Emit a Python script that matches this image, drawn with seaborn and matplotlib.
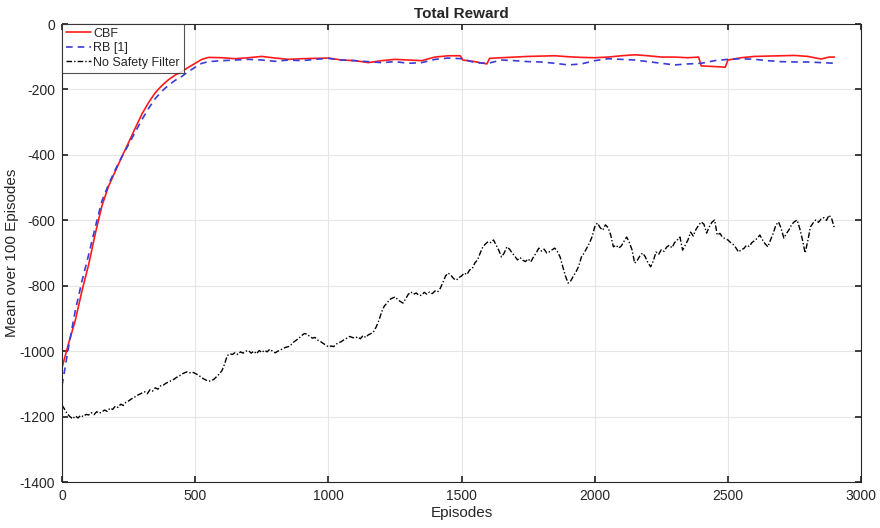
import numpy as np
import pandas as pd
import matplotlib
matplotlib.use("Agg")
import matplotlib.pyplot as plt
import seaborn as sns

# ---------------- data ----------------
cbf_ep = [0, 25, 50, 75, 100, 125, 150, 175, 200, 225, 250, 275, 300, 325, 350,
          375, 400, 425, 450, 475, 500, 525, 550, 600, 650, 700, 750, 800, 850,
          900, 950, 1000, 1050, 1100, 1150, 1200, 1250, 1300, 1350, 1400, 1450,
          1495, 1505, 1550, 1595, 1605, 1650, 1700, 1750, 1800, 1850, 1900, 1950,
          2000, 2050, 2100, 2150, 2200, 2250, 2300, 2350, 2390, 2400, 2450, 2490,
          2500, 2550, 2600, 2650, 2700, 2750, 2800, 2850, 2880, 2900]
cbf_val = [-1050, -975, -905, -815, -735, -640, -555, -495, -450, -405, -362, -318,
           -275, -240, -210, -188, -170, -156, -145, -132, -120, -108, -102, -103,
           -106, -103, -99, -104, -108, -106, -105, -104, -110, -112, -118, -112,
           -108, -110, -112, -101, -97, -97, -110, -115, -122, -105, -103, -101,
           -99, -98, -97, -100, -102, -103, -101, -97, -94, -97, -101, -101, -103,
           -101, -128, -130, -132, -110, -103, -99, -98, -97, -96, -99, -107, -101,
           -101]

rb_ep = [0, 25, 50, 75, 100, 125, 150, 175, 200, 225, 250, 275, 300, 325, 350,
         375, 400, 425, 450, 475, 500, 525, 550, 600, 650, 700, 750, 800, 850, 900,
         950, 1000, 1050, 1100, 1150, 1200, 1250, 1300, 1350, 1400, 1450, 1500,
         1550, 1600, 1650, 1700, 1750, 1800, 1850, 1900, 1950, 2000, 2050, 2100,
         2150, 2200, 2250, 2300, 2350, 2400, 2450, 2500, 2550, 2600, 2650, 2700,
         2750, 2800, 2850, 2900]
rb_val = [-1105, -985, -875, -785, -705, -620, -540, -490, -445, -405, -368, -330,
          -292, -258, -228, -205, -187, -172, -160, -145, -132, -120, -115, -112,
          -110, -108, -110, -114, -110, -112, -108, -105, -110, -112, -115, -118,
          -115, -120, -118, -108, -104, -106, -118, -120, -110, -112, -115, -116,
          -120, -125, -122, -112, -106, -108, -110, -115, -120, -125, -122, -120,
          -112, -108, -106, -108, -112, -115, -116, -116, -118, -120]

nsf_ep = list(range(0, 2901, 10))
nsf_val = [
    -1165, -1178, -1192, -1200, -1207, -1198, -1204, -1196, -1200, -1193,  # 0
    -1195, -1188, -1194, -1185, -1190, -1185, -1180, -1184, -1174, -1178,  # 100
    -1168, -1172, -1162, -1166, -1156, -1152, -1146, -1142, -1136, -1132,  # 200
    -1128, -1124, -1130, -1118, -1122, -1112, -1116, -1106, -1104, -1098,  # 300
    -1094, -1090, -1086, -1080, -1076, -1070, -1066, -1063, -1066, -1064,  # 400
    -1068, -1072, -1078, -1084, -1088, -1092, -1090, -1086, -1078, -1070,  # 500
    -1060, -1040, -1014, -1008, -1010, -1004, -1010, -1002, -1006, -1000,  # 600
    -998, -1006, -1000, -1008, -998, -1004, -997, -1002, -994, -1000,      # 700
    -1005, -1000, -996, -992, -988, -986, -980, -972, -966, -960,          # 800
    -952, -946, -948, -955, -960, -958, -966, -970, -976, -981,            # 900
    -987, -984, -986, -978, -974, -970, -964, -960, -955, -958,            # 1000
    -960, -956, -962, -952, -958, -950, -946, -940, -925, -905,            # 1100
    -880, -862, -853, -842, -838, -834, -842, -848, -853, -840,            # 1200
    -826, -819, -826, -822, -830, -829, -820, -826, -819, -824,            # 1300
    -816, -819, -808, -790, -770, -761, -768, -778, -783, -775,            # 1400
    -770, -761, -766, -752, -748, -730, -721, -700, -681, -672,            # 1500
    -665, -668, -660, -676, -692, -712, -700, -681, -688, -700,            # 1600
    -710, -721, -714, -722, -726, -718, -727, -712, -700, -685,            # 1700
    -694, -688, -700, -696, -690, -685, -696, -712, -742, -770,            # 1800
    -792, -785, -770, -757, -740, -712, -700, -685, -670, -650,            # 1900
    -620, -608, -622, -630, -614, -622, -645, -681, -676, -685,            # 2000
    -678, -664, -651, -668, -690, -731, -722, -708, -700, -712,            # 2100
    -730, -742, -724, -697, -704, -690, -695, -682, -676, -684,            # 2200
    -668, -660, -651, -691, -676, -660, -636, -648, -628, -615,            # 2300
    -605, -612, -639, -620, -606, -599, -645, -640, -652, -656,            # 2400
    -660, -668, -674, -684, -697, -690, -686, -676, -680, -668,            # 2500
    -662, -655, -645, -660, -672, -681, -660, -640, -615, -605,            # 2600
    -625, -654, -640, -628, -612, -604, -599, -626, -660, -700,            # 2700
    -662, -620, -608, -599, -606, -596, -592, -600, -584, -596,            # 2800
    -624,                                                                  # 2900
]

x_ticks = [0, 500, 1000, 1500, 2000, 2500, 3000]
y_ticks = [0, -200, -400, -600, -800, -1000, -1200, -1400]

# ---------------- plot ----------------
sns.set_theme(style="white")
plt.rcParams['font.family'] = ['Liberation Sans', 'DejaVu Sans']
plt.rcParams['axes.unicode_minus'] = False

fig = plt.figure(figsize=(8.8, 5.28), dpi=100)
ax = fig.add_axes([0.0705, 0.087, 0.908, 0.8675])

df_c = pd.DataFrame({"ep": cbf_ep, "val": cbf_val})
df_r = pd.DataFrame({"ep": rb_ep, "val": rb_val})
df_n = pd.DataFrame({"ep": nsf_ep, "val": nsf_val})

sns.lineplot(data=df_c, x="ep", y="val", ax=ax, color="#ff1a1a", lw=1.2, label="CBF")
sns.lineplot(data=df_r, x="ep", y="val", ax=ax, color="#3b3bd6", lw=1.2,
             label="RB [1]")
ax.lines[-1].set_linestyle((0, (4, 3)))
sns.lineplot(data=df_n, x="ep", y="val", ax=ax, color="black", lw=1.0,
             label="No Safety Filter")
ax.lines[-1].set_linestyle((0, (4, 1.5, 1, 1.5)))

ax.set_xlim(0, 3000)
ax.set_ylim(-1400, 0)
ax.set_xticks(x_ticks)
ax.set_yticks(y_ticks)
ax.grid(True, color="#e6e6e6", lw=0.8)
ax.set_axisbelow(True)
for s in ax.spines.values():
    s.set_color("#262626")
    s.set_linewidth(0.8)
ax.tick_params(direction="in", length=4, top=True, right=True, labelsize=10,
               colors="#262626", bottom=True, left=True, pad=5)
ax.set_xlabel("Episodes", fontsize=11, color="#262626", labelpad=2)
ax.set_ylabel("Mean over 100 Episodes", fontsize=11, color="#262626", labelpad=0)
ax.set_title("Total Reward", fontsize=11, fontweight="bold", color="#262626", pad=4)

leg = ax.legend(loc="upper left", fontsize=9, frameon=True, fancybox=False,
                borderaxespad=0.0, handlelength=2.0, handletextpad=0.2,
                labelspacing=0.2, borderpad=0.3)
leg.get_frame().set_edgecolor("#262626")
leg.get_frame().set_linewidth(0.8)

fig.savefig("out.png", dpi=100)
